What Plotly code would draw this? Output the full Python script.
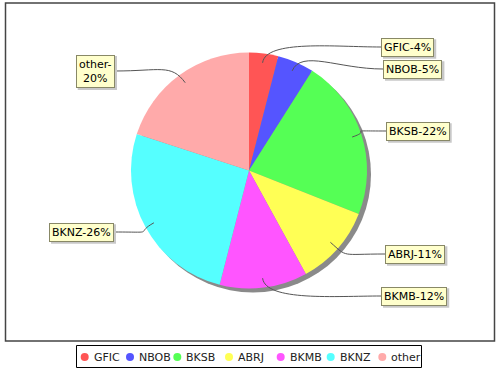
import math
import plotly.graph_objects as go

labels = ["GFIC", "NBOB", "BKSB", "ABRJ", "BKMB", "BKNZ", "other"]
values = [4, 5, 22, 11, 12, 26, 20]
colors = ["#FF5555", "#5555FF", "#55FF55", "#FFFF55", "#FF55FF", "#55FFFF", "#FFAAAA"]

# layout constants (pixels)
W, H = 500, 370
CX, CY, R = 249, 170.5, 118
SH = 4
LABEL_FS = 11
# label box edge anchor: (x, y, side)
label_pos = [
    (381, 47, "left"),
    (383, 69, "left"),
    (386, 131, "left"),
    (385, 254, "left"),
    (381, 296, "left"),
    (114, 232, "right"),
    (115, 71, "right"),
]
# legend item layout: circle centre x, text start x
legend_circle_x = [84.7, 130, 177.3, 229, 280.7, 330.7, 382.3]
legend_text_x = [91.5, 137, 184, 235.5, 288, 338, 389]
LEG_Y = 357

# DejaVu Sans advance widths (units per 2048 em) for shadow box sizing
GW = {"A": 1401, "B": 1405, "C": 1430, "F": 1178, "G": 1587, "I": 604, "J": 604, "K": 1343,
      "M": 1767, "N": 1532, "O": 1612, "R": 1423, "S": 1300, "Z": 1403, "-": 739, "%": 1946,
      "o": 1253, "t": 803, "h": 1298, "e": 1260, "r": 842}
def text_w(s, fs):
    return sum(GW.get(c, 1303) for c in s) / 2048 * fs

def dom(cx, cy):
    return dict(x=[(cx - R) / W, (cx + R) / W], y=[1 - (cy + R) / H, 1 - (cy - R) / H])

fig = go.Figure()
fig.add_trace(go.Pie(values=[1], labels=["shadow"], marker=dict(colors=["#8a8a8a"], line=dict(width=0)),
                     textinfo="none", hoverinfo="skip", showlegend=False, sort=False, domain=dom(CX + SH, CY + SH)))
fig.add_trace(go.Pie(values=values, labels=labels, marker=dict(colors=colors, line=dict(width=0)),
                     textinfo="none", sort=False, direction="clockwise", rotation=0,
                     showlegend=False, domain=dom(CX, CY)))

total = sum(values)
shapes = [dict(type="rect", xref="x", yref="y", x0=5.5, y0=3, x1=494.5, y1=341,
               line=dict(color="#444444", width=1.5), fillcolor="rgba(0,0,0,0)", layer="below")]
annotations = []
cum = 0
for lab, v, (lx, ly, side) in zip(labels, values, label_pos):
    mid = (cum + v / 2) / total * 2 * math.pi
    cum += v
    ux, uy = math.sin(mid), -math.cos(mid)
    ax, ay = CX + 0.92 * R * ux, CY + 0.92 * R * uy
    p1x, p1y = CX + 1.12 * R * ux, CY + 1.12 * R * uy
    d = 1 if side == "left" else -1
    p2x = lx - d * 45
    path = f"M {ax:.1f},{ay:.1f} C {p1x:.1f},{p1y:.1f} {p2x:.1f},{ly} {lx},{ly}"
    shapes.append(dict(type="path", xref="x", yref="y", path=path, line=dict(color="#555555", width=1)))
    pct = round(v / total * 100)
    lines = [f"{lab}-", f"{pct}%"] if lab == "other" else [f"{lab}-{pct}%"]
    txt = "<br>".join(lines)
    bw = max(text_w(s, LABEL_FS) for s in lines) + 6
    bh = 14.5 * len(lines) + 5
    bx0 = lx if side == "left" else lx - bw
    shapes.append(dict(type="rect", xref="x", yref="y", x0=bx0 + 2, x1=bx0 + bw + 2,
                       y0=ly - bh / 2 + 2, y1=ly + bh / 2 + 2, fillcolor="#c8c8c8", line=dict(width=0)))
    annotations.append(dict(
        x=lx, y=ly, xref="x", yref="y", text=txt, showarrow=False,
        xanchor=side, yanchor="middle",
        font=dict(family="DejaVu Sans", size=LABEL_FS, color="#000000"),
        bgcolor="#FFFFCC", bordercolor="#888866", borderwidth=1, borderpad=2))

# legend (drawn manually to match layout)
shapes.append(dict(type="rect", xref="x", yref="y", x0=76.5, y0=345.5, x1=421.5, y1=367.5,
                   line=dict(color="#000000", width=1), fillcolor="white"))
for lab, col, cx_, tx in zip(labels, colors, legend_circle_x, legend_text_x):
    shapes.append(dict(type="circle", xref="x", yref="y", x0=cx_ - 4, x1=cx_ + 4,
                       y0=LEG_Y - 4, y1=LEG_Y + 4, fillcolor=col, line=dict(width=0)))
    annotations.append(dict(x=tx, y=LEG_Y, xref="x", yref="y", text=lab, showarrow=False,
                            xanchor="left", yanchor="middle",
                            font=dict(family="DejaVu Sans", size=11, color="#222222")))

fig.update_layout(
    width=W, height=H, margin=dict(l=0, r=0, t=0, b=0, autoexpand=False),
    paper_bgcolor="white", plot_bgcolor="rgba(0,0,0,0)",
    xaxis=dict(range=[0, W], visible=False, fixedrange=True),
    yaxis=dict(range=[H, 0], visible=False, fixedrange=True),
    shapes=shapes, annotations=annotations,
    showlegend=False,
)

fig.write_html("out.html", config={"displayModeBar": False},
               post_script="document.body.style.margin='0';document.body.style.overflow='hidden';")
